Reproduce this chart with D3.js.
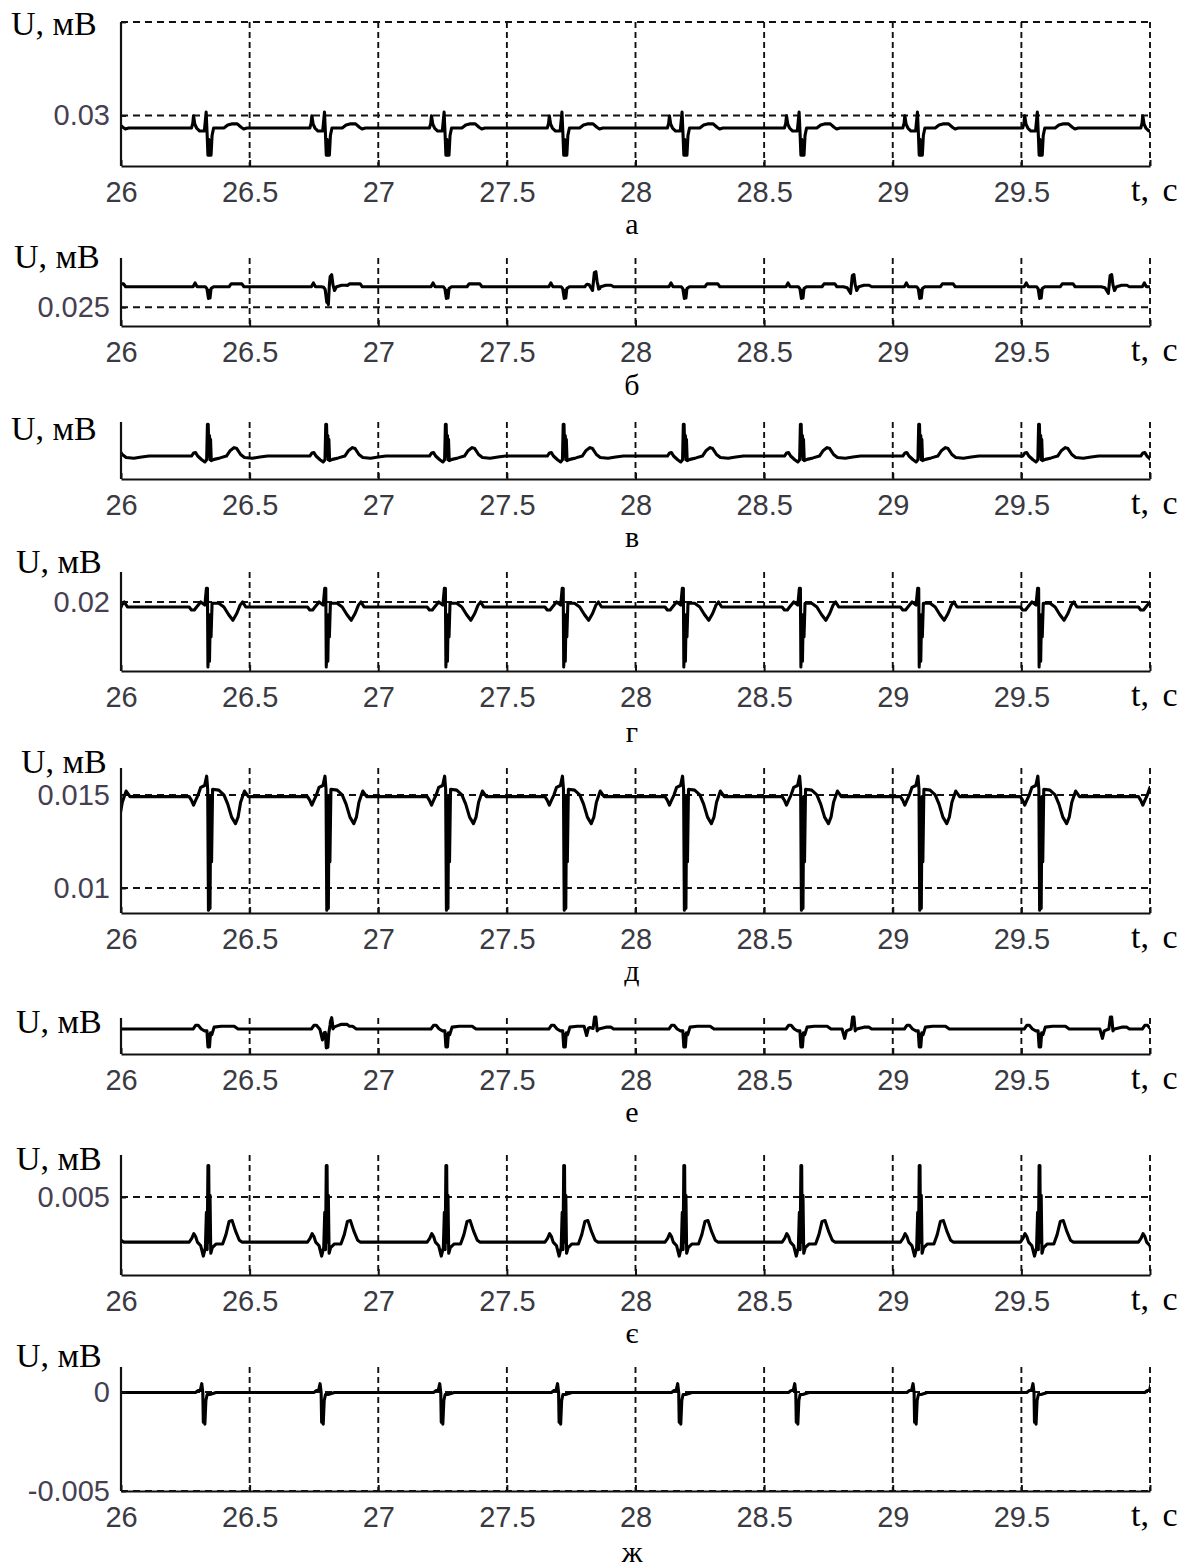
<!DOCTYPE html>
<html><head><meta charset="utf-8">
<script src="https://cdn.jsdelivr.net/npm/d3@7"></script>
<style>body{margin:0;background:#fff} svg{display:block}</style>
</head><body><svg id="c" width="1195" height="1568"></svg>
<script>
// ---------- data ----------
const xTicks = [26, 26.5, 27, 27.5, 28, 28.5, 29, 29.5, 30];
const xTickLabels = ["26", "26.5", "27", "27.5", "28", "28.5", "29", "29.5", ""];
const xAxisTitle = "t, с";
const yAxisTitle = "U, мВ";
const panelLetters = ["а", "б", "в", "г", "д", "е", "є", "ж"];

// R-peak times of the fast (fetal) complexes and of the slow (maternal) complexes, s
const fetalBeats = [25.88, 26.34, 26.80, 27.265, 27.723, 28.19, 28.645, 29.105, 29.571, 30.03];
const maternalBeats = [26.818, 27.845, 28.848, 29.85];

const yDomains = [[0.0273, 0.035], [0.024, 0.02762], [0, 0.00305], [0.01631, 0.0216],
                  [0.00866, 0.01645], [0, 0.00193], [0.00083, 0.00725], [-0.005, 0.00126]];
const yTicks = [[0.03, 0.035], [0.025], [], [0.02], [0.01, 0.015], [], [0.005], [-0.005, 0]];
const yTickLabels = [["0.03", ""], ["0.025"], [], ["0.02"], ["0.01", "0.015"], [], ["0.005"], ["-0.005", "0"]];
const baselines = [0.02933, 0.02609, 0.00123, 0.01973, 0.01491, 0.00134, 0.00259, -0.00003];

// complex shapes: [time from R, mV above baseline]
const complexA = [[-0.10,0],[-0.066,0],[-0.061,0.00025],[-0.058,0.00066],[-0.053,0.0002],[-0.046,0],[-0.034,-0.00016],[-0.016,-0.00016],[-0.009,0.00085],[-0.005,-0.0004],[-0.002,-0.00145],[0.001,-0.0006],[0.004,-0.00145],[0.007,-0.0008],[0.010,-0.00145],[0.014,-0.0004],[0.02,0],[0.06,0],[0.075,0.00016],[0.09,0.00022],[0.112,0.00022],[0.127,0.00004],[0.137,-0.00005],[0.15,0],[0.2,0]];
const complexB = [[-0.10,0],[-0.06,0],[-0.052,0.0002],[-0.044,0],[-0.012,0],[-0.006,-0.0001],[0.0,-0.00062],[0.003,-0.0002],[0.006,-0.0006],[0.01,-0.0001],[0.02,0],[0.08,0],[0.088,0.00015],[0.13,0.00015],[0.138,0],[0.2,0]];
const complexV = [[-0.10,0],[-0.066,0],[-0.058,0.00016],[-0.05,0.00018],[-0.042,0],[-0.026,-0.0002],[-0.014,-0.00032],[-0.007,-0.0002],[-0.004,0.0017],[-0.001,0.0017],[0.002,0.0],[0.004,0.0011],[0.006,-0.0002],[0.008,0.0009],[0.011,-0.00025],[0.022,-0.00018],[0.045,-0.0001],[0.07,0],[0.085,0.0003],[0.1,0.00045],[0.11,0.0004],[0.125,0.00008],[0.14,-0.00008],[0.17,-0.00012],[0.2,-0.00005],[0.23,0]];
const complexG = [[-0.10,0],[-0.075,0],[-0.066,-0.00016],[-0.055,-0.00016],[-0.046,0],[-0.03,0.00027],[-0.014,0.0001],[-0.008,0.001],[-0.004,0.001],[-0.002,-0.0032],[0.001,-0.0006],[0.004,-0.0029],[0.007,-0.0004],[0.010,-0.0016],[0.014,0.0002],[0.04,0.0002],[0.06,0],[0.078,-0.0004],[0.095,-0.00071],[0.11,-0.00035],[0.123,0.0001],[0.133,0.00027],[0.145,0],[0.2,0]];
const complexD = [[-0.10,0],[-0.075,0],[-0.066,-0.0002],[-0.058,-0.00045],[-0.05,-0.0002],[-0.04,0.0001],[-0.03,0.0005],[-0.015,0.0006],[-0.007,0.0011],[-0.003,0.0004],[0.0,-0.0061],[0.003,-0.0005],[0.006,-0.006],[0.009,0.0],[0.012,-0.0035],[0.016,0.0004],[0.04,0.00035],[0.06,0.0001],[0.075,-0.0004],[0.09,-0.0011],[0.105,-0.00145],[0.115,-0.0011],[0.125,-0.0003],[0.14,0.0003],[0.155,0],[0.2,0]];
const complexE = [[-0.10,0],[-0.06,0],[-0.05,0.0002],[-0.04,0.0002],[-0.028,0],[-0.015,-0.0001],[-0.006,-0.0001],[-0.002,-0.00096],[0.001,-0.0003],[0.004,-0.00096],[0.008,-0.0002],[0.013,-0.0003],[0.022,0.0001],[0.05,0.00015],[0.1,0.00015],[0.115,0],[0.2,0]];
const complexYe = [[-0.10,0],[-0.075,0],[-0.065,0.0002],[-0.057,0.00045],[-0.05,0.0003],[-0.043,0],[-0.03,-0.0002],[-0.02,-0.00075],[-0.012,-0.0003],[-0.008,0.0016],[-0.005,-0.0004],[-0.002,0.0041],[0.001,0.0041],[0.003,0.0],[0.006,0.0025],[0.009,-0.0006],[0.015,-0.0003],[0.03,-0.0001],[0.055,-0.0001],[0.068,0.0004],[0.08,0.0011],[0.092,0.00115],[0.105,0.0006],[0.12,0.0001],[0.13,0],[0.2,0]];
const complexZh = [[-0.10,0],[-0.05,0],[-0.04,0.0001],[-0.032,0.0001],[-0.026,0.00045],[-0.022,0],[-0.02,-0.0015],[-0.017,-0.0006],[-0.014,-0.0016],[-0.01,-0.0004],[-0.005,-0.0001],[0.005,-0.0001],[0.03,0],[0.2,0]];
const maternalB = [[-0.04,0],[-0.025,-0.00005],[-0.012,-0.00035],[-0.005,0.0006],[0.001,0.00065],[0.006,0.0001],[0.012,-0.0002],[0.02,0],[0.04,0.00008],[0.06,0.00008],[0.07,0]];
const maternalE = [[-0.045,0],[-0.035,-0.0005],[-0.028,-0.0001],[-0.01,0],[-0.004,0.00064],[0.001,0.00064],[0.006,-0.0001],[0.012,0],[0.04,0.0001],[0.06,0.0001],[0.07,0]];

const fetalComplexes = [complexA, complexB, complexV, complexG, complexD, complexE, complexYe, complexZh];
const maternalComplexes = [null, maternalB, null, null, null, maternalE, null, null];

// ---------- layout ----------
const L = 121, R = 1150;
const layout = [
  {top: 22,   bottom: 166,  titleX: 11, titleY: 35,   letterY: 234},
  {top: 258,  bottom: 326,  titleX: 14, titleY: 268,  letterY: 395},
  {top: 422,  bottom: 479,  titleX: 11, titleY: 440,  letterY: 547},
  {top: 572,  bottom: 671,  titleX: 16, titleY: 573,  letterY: 742},
  {top: 768,  bottom: 913,  titleX: 21, titleY: 773,  letterY: 981},
  {top: 1018, bottom: 1054, titleX: 16, titleY: 1033, letterY: 1122},
  {top: 1155, bottom: 1275, titleX: 16, titleY: 1170, letterY: 1343},
  {top: 1367, bottom: 1491, titleX: 16, titleY: 1367, letterY: 1562}
];
const tickFont = "'Liberation Sans', Arial, sans-serif";
const serif = "'Liberation Serif', 'Times New Roman', serif";

const svg = d3.select("#c");
svg.append("rect").attr("width", 1195).attr("height", 1568).attr("fill", "#fff");

function evalComplex(c, dt) {
  if (dt <= c[0][0] || dt >= c[c.length - 1][0]) return 0;
  for (let k = 1; k < c.length; k++) {
    if (dt <= c[k][0]) {
      const a = c[k - 1], b = c[k];
      return a[1] + (b[1] - a[1]) * (dt - a[0]) / (b[0] - a[0]);
    }
  }
  return 0;
}
function buildSeries(i) {
  const parts = [[fetalBeats, fetalComplexes[i]]];
  if (maternalComplexes[i]) parts.push([maternalBeats, maternalComplexes[i]]);
  let ts = [xTicks[0], xTicks[xTicks.length - 1]];
  parts.forEach(([beats, c]) => beats.forEach(b => c.forEach(p => ts.push(b + p[0]))));
  ts = Array.from(new Set(ts.map(t => +t.toFixed(5)))).sort((a, b) => a - b);
  return ts.map(t => [t, baselines[i] + d3.sum(parts, ([beats, c]) => d3.sum(beats, b => evalComplex(c, t - b)))]);
}

layout.forEach((P, i) => {
  const x = d3.scaleLinear().domain([xTicks[0], xTicks[xTicks.length - 1]]).range([L, R]);
  const y = d3.scaleLinear().domain(yDomains[i]).range([P.bottom, P.top]);
  const g = svg.append("g");

  // grid
  g.append("g").selectAll("line").data(xTicks.slice(1)).join("line")
    .attr("x1", d => x(d)).attr("x2", d => x(d)).attr("y1", P.top).attr("y2", P.bottom)
    .attr("stroke", "#111").attr("stroke-width", 1.9).attr("stroke-dasharray", "6,4");
  g.append("g").selectAll("line").data(yTicks[i]).join("line")
    .attr("x1", L).attr("x2", R).attr("y1", d => y(d)).attr("y2", d => y(d))
    .attr("stroke", "#111").attr("stroke-width", 1.9).attr("stroke-dasharray", "7,5");

  // trace
  const cid = "clip" + i;
  svg.append("clipPath").attr("id", cid).append("rect")
    .attr("x", L).attr("y", P.top - 10).attr("width", R - L).attr("height", P.bottom - P.top + 20);
  g.append("path").datum(buildSeries(i))
    .attr("clip-path", `url(#${cid})`)
    .attr("fill", "none").attr("stroke", "#000").attr("stroke-width", 3.1)
    .attr("stroke-linejoin", "round")
    .attr("d", d3.line().x(d => x(d[0])).y(d => y(d[1])));

  // axes
  const xa = g.append("g").attr("transform", `translate(0,${P.bottom})`)
    .call(d3.axisBottom(x).tickValues(xTicks).tickFormat((d, k) => xTickLabels[k])
      .tickSizeInner(-6).tickSizeOuter(0).tickPadding(15));
  xa.select(".domain").attr("stroke", "#111").attr("stroke-width", 2.2);
  xa.selectAll(".tick line").attr("stroke", "#111").attr("stroke-width", 2);
  xa.selectAll("text").attr("font-family", tickFont).attr("font-size", 29).attr("fill", "#3a3a42");

  const ya = g.append("g").attr("transform", `translate(${L},0)`)
    .call(d3.axisLeft(y).tickValues(yTicks[i]).tickFormat((d, k) => yTickLabels[i][k])
      .tickSizeInner(-5).tickSizeOuter(0).tickPadding(11));
  ya.select(".domain").attr("stroke", "#111").attr("stroke-width", 2.2)
    .attr("d", `M0,${P.top}V${P.bottom}`);
  ya.selectAll(".tick line").attr("stroke", "#111").attr("stroke-width", 1.8);
  ya.selectAll("text").attr("font-family", tickFont).attr("font-size", 29).attr("fill", "#463f52");

  // titles
  g.append("text").attr("x", P.titleX).attr("y", P.titleY).text(yAxisTitle)
    .attr("font-family", serif).attr("font-size", 34).attr("fill", "#000");
  g.append("text").attr("x", 1131).attr("y", P.bottom + 35).text(xAxisTitle)
    .attr("font-family", serif).attr("font-size", 34).attr("word-spacing", 5).attr("fill", "#000");
  g.append("text").attr("x", 632).attr("y", P.letterY).attr("text-anchor", "middle").text(panelLetters[i])
    .attr("font-family", serif).attr("font-size", 30).attr("fill", "#000");
});
</script></body></html>
